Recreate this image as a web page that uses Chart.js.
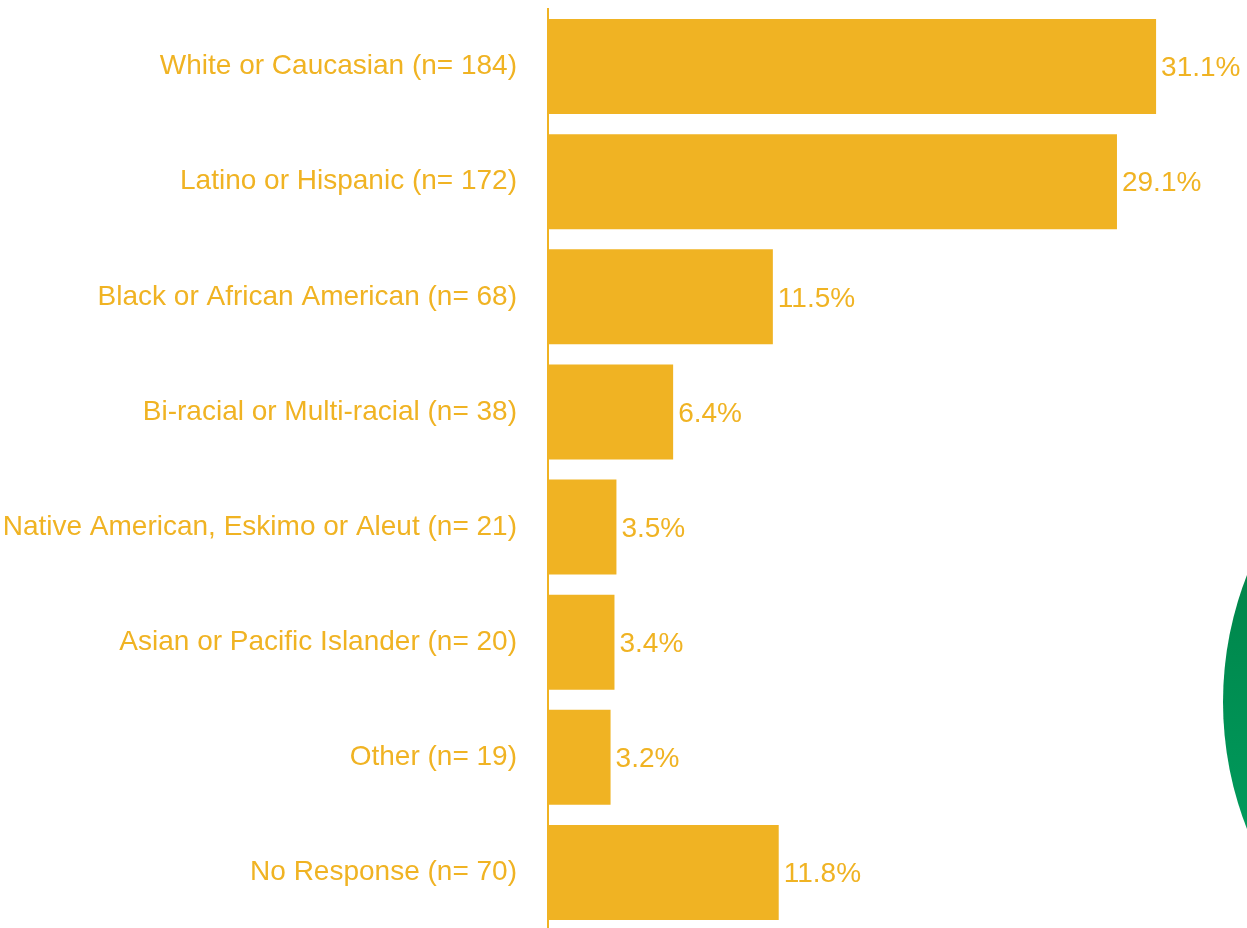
<!DOCTYPE html>
<html>
<head>
<meta charset="utf-8">
<script src="https://cdn.jsdelivr.net/npm/chart.js@4"></script>
<style>
  html, body { margin: 0; padding: 0; background: #fff; overflow: hidden; }
  #wrap { width: 1247px; height: 930px; position: relative; }
</style>
</head>
<body>
<div id="wrap"><canvas id="raceChart"></canvas></div>
<script>
var categories = [
    'White or Caucasian (n= 184)',
    'Latino or Hispanic (n= 172)',
    'Black or African American (n= 68)',
    'Bi-racial or Multi-racial (n= 38)',
    'Native American, Eskimo or Aleut (n= 21)',
    'Asian or Pacific Islander (n= 20)',
    'Other (n= 19)',
    'No Response (n= 70)'
];
var percents = [31.1, 29.1, 11.5, 6.4, 3.5, 3.4, 3.2, 11.8];

var gold = '#F0B323';
var font = '"Liberation Sans", Arial, Helvetica, sans-serif';

// green half-circle peeking in from the right edge
var decoration = {
    id: 'decoration',
    beforeDraw: function(chart) {
        var ctx = chart.ctx;
        var r = 348;
        var cx = 1223 + r, cy = 702;
        var grad = ctx.createLinearGradient(0, cy - 130, 0, cy + 130);
        grad.addColorStop(0, '#00854a');
        grad.addColorStop(1, '#009a5c');
        ctx.save();
        ctx.fillStyle = grad;
        ctx.beginPath();
        ctx.arc(cx, cy, r, 0, Math.PI * 2);
        ctx.fill();
        ctx.restore();
    }
};

var valueLabels = {
    id: 'valueLabels',
    afterDatasetsDraw: function(chart) {
        var ctx = chart.ctx;
        var meta = chart.getDatasetMeta(0);
        ctx.save();
        ctx.fillStyle = gold;
        ctx.font = '28px ' + font;
        ctx.textAlign = 'left';
        ctx.textBaseline = 'middle';
        meta.data.forEach(function(bar, i) {
            ctx.fillText(percents[i].toFixed(1) + '%', bar.x + 5, bar.y + 2);
        });
        ctx.restore();
    }
};

var ctx = document.getElementById('raceChart').getContext('2d');
window.raceChart = new Chart(ctx, {
    type: 'bar',
    data: {
        labels: categories,
        datasets: [{
            data: percents,
            backgroundColor: gold,
            borderWidth: 0,
            barPercentage: 0.825,
            categoryPercentage: 1.0
        }]
    },
    plugins: [decoration, valueLabels],
    options: {
        indexAxis: 'y',
        responsive: true,
        maintainAspectRatio: false,
        animation: false,
        layout: { autoPadding: false, padding: { top: 9, bottom: 0, left: 0, right: 0 } },
        plugins: {
            legend: { display: false },
            tooltip: { enabled: false }
        },
        scales: {
            x: {
                display: false,
                min: 0,
                max: 35.75
            },
            y: {
                afterFit: function(scale) {
                    scale.width = 548;
                    scale.paddingTop = 0;
                    scale.paddingBottom = 0;
                },
                grid: { display: false, drawTicks: false },
                border: { display: true, color: gold, width: 2 },
                ticks: {
                    color: gold,
                    padding: 31,
                    font: { family: font, size: 28 }
                }
            }
        }
    }
});
</script>
</body>
</html>
